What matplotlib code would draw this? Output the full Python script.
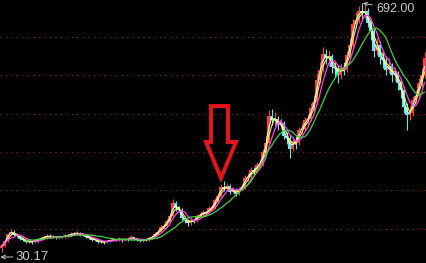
import matplotlib
matplotlib.use("Agg")
import matplotlib.pyplot as plt
import numpy as np
import pandas as pd
from matplotlib.patches import Polygon
from matplotlib.transforms import offset_copy

##### DATA (one bar every ~3 px) #####
first_open = 40
closes = [46, 60, 78, 84, 76, 74, 66, 63, 57, 58,
          56, 63, 61, 68, 69, 74, 70, 72, 69, 72,
          70, 74, 73, 79, 78, 82, 76, 76, 70, 68,
          63, 63, 58, 57, 56, 60, 61, 63, 62, 66,
          61, 65, 63, 69, 65, 63, 60, 63, 62, 68,
          70, 79, 84, 96, 99, 112, 125, 160, 146, 143,
          120, 114, 107, 114, 113, 126, 128, 136, 132, 147,
          148, 168, 180, 203, 198, 206, 190, 196, 184, 198,
          202, 228, 229, 248, 244, 262, 264, 295, 320, 392,
          380, 384, 368, 372, 338, 334, 305, 325, 320, 355,
          358, 380, 384, 412, 428, 488, 515, 556, 545, 550,
          522, 520, 500, 520, 515, 555, 580, 635, 648, 672,
          665, 672, 640, 618, 565, 580, 548, 540, 515, 525,
          500, 505, 480, 460, 415, 395, 400, 435, 445, 480,
          500, 545]

highs = [50, 66, 82, 92, 88, 79, 76, 69, 65, 61,
         61, 66, 66, 71, 73, 77, 77, 75, 74, 75,
         74, 77, 77, 83, 84, 87, 84, 80, 78, 73,
         70, 67, 65, 61, 60, 63, 64, 67, 66, 70,
         68, 68, 67, 75, 71, 67, 65, 66, 66, 71,
         74, 83, 90, 101, 106, 118, 135, 172, 166, 152,
         146, 124, 118, 118, 119, 131, 134, 141, 140, 152,
         156, 174, 188, 212, 218, 214, 210, 203, 200, 204,
         210, 236, 240, 256, 255, 270, 278, 305, 340, 408,
         410, 402, 392, 386, 378, 350, 340, 335, 338, 362,
         372, 390, 398, 425, 448, 505, 535, 575, 570, 566,
         556, 535, 528, 530, 535, 565, 598, 650, 668, 685,
         692, 688, 680, 650, 625, 598, 590, 565, 550, 545,
         532, 522, 512, 490, 468, 425, 418, 445, 462, 492,
         520, 562]

lows = [30.17, 44, 58, 76, 72, 70, 63, 60, 54, 54,
        52, 54, 58, 59, 65, 66, 67, 67, 66, 66,
        67, 68, 70, 71, 75, 76, 73, 72, 67, 65,
        60, 60, 55, 54, 52, 54, 58, 59, 59, 60,
        58, 59, 60, 61, 62, 60, 57, 58, 59, 60,
        66, 68, 76, 82, 92, 96, 108, 122, 140, 136,
        115, 106, 100, 103, 108, 110, 122, 124, 127, 130,
        142, 145, 163, 176, 192, 193, 184, 186, 178, 181,
        194, 198, 220, 225, 236, 240, 255, 260, 290, 315,
        368, 365, 355, 358, 330, 318, 280, 298, 305, 315,
        345, 352, 370, 378, 405, 422, 480, 508, 530, 525,
        505, 495, 480, 490, 500, 508, 545, 572, 625, 640,
        650, 652, 628, 595, 548, 555, 530, 520, 500, 505,
        482, 485, 462, 440, 400, 355, 380, 392, 428, 438,
        470, 492]

# long moving average (green), starts at bar 8
ma_long = [np.nan] * 8 + [
    59, 62, 62, 62, 64, 64, 64, 67, 67, 67,
    70, 70, 70, 72, 72, 72, 74, 75, 75, 75,
    75, 75, 75, 74, 72, 72, 70, 68, 67, 66,
    64, 64, 64, 64, 63, 62, 62, 62, 62, 62,
    62, 63, 64, 66, 67, 70, 75, 80, 86, 91,
    96, 104, 110, 115, 120, 123, 124, 124, 123, 123,
    125, 128, 131, 136, 141, 147, 152, 160, 165, 173,
    181, 187, 195, 200, 208, 216, 229, 242, 256, 272,
    285, 301, 312, 325, 336, 346, 352, 354, 353, 349,
    341, 337, 336, 336, 344, 357, 373, 391, 407, 426,
    445, 463, 477, 490, 503, 514, 519, 524, 530, 538,
    551, 564, 580, 594, 607, 618, 623, 626, 620, 612,
    602, 583, 562, 543, 527, 514, 500, 490, 477, 463,
    453, 447, 450, 455]

grid_levels = [92, 194, 296, 398, 500, 601]
peak_label = "692.00"
low_label = "30.17"
################

closes = np.array(closes, dtype=float)
opens = np.concatenate([[first_open], closes[:-1]])
highs = np.array(highs, dtype=float)
lows = np.array(lows, dtype=float)
x = np.arange(len(closes))

fig = plt.figure(figsize=(4.26, 2.63), dpi=100, facecolor="black")
ax = fig.add_axes([0, 0, 1, 1])
ax.set_facecolor("black")
ax.set_xlim(-0.5, len(closes) - 0.5)
ax.set_ylim(0.93, 700)
ax.axis("off")

# dotted dark red grid, one dot every 4 px
for lvl in grid_levels:
    ax.axhline(lvl, color="#8c2222", lw=0.72, ls=(0, (1.2, 4.3)), zorder=1)

# candles
up = closes >= opens
colors = np.where(up, "#ff3c3c", "#50f0f0")
ax.vlines(x, lows, highs, colors=colors, lw=0.8, zorder=2)
body_h = np.maximum(np.abs(closes - opens), 1.0)
ax.bar(x, body_h, bottom=np.minimum(opens, closes), width=0.7,
       color=colors, linewidth=0, zorder=2)

# moving averages
s = pd.Series(closes)
ax.plot(x, s.rolling(2, min_periods=1).mean(), color="white", lw=0.8, zorder=3)
ax.plot(x, s.rolling(3, min_periods=1).mean(), color="#ffff3c", lw=0.8, zorder=3)
ax.plot(x, s.rolling(5, min_periods=1).mean(), color="#ff3cff", lw=0.9, zorder=4)
ax.plot(x, ma_long, color="#3cd23c", lw=0.9, zorder=4)

# max / min labels
txt_color = "#c8c8c8"
fonts = ["Liberation Sans", "DejaVu Sans"]
ipk = int(np.argmax(highs))
ax.annotate(peak_label, xy=(ipk, highs[ipk]), xytext=(15, -6),
            textcoords="offset pixels", ha="left", va="center",
            color=txt_color, fontsize=9, family=fonts,
            arrowprops=dict(arrowstyle="->", color=txt_color, lw=0.7,
                            shrinkA=1, shrinkB=1, mutation_scale=6))
ilo = int(np.argmin(lows))
low_trans = offset_copy(ax.transData, fig=fig, x=-1, y=-5, units="dots")
ax.annotate(low_label, xy=(ilo, lows[ilo]), xycoords=low_trans, xytext=(15, 0),
            textcoords="offset pixels", ha="left", va="center",
            color=txt_color, fontsize=9.5, family=fonts,
            arrowprops=dict(arrowstyle="->", color=txt_color, lw=0.7,
                            shrinkA=0, shrinkB=0, mutation_scale=7))

# hollow red arrow pointing down at the marked bar (pixel layout -> axes fraction)
W, H = 426.0, 263.0
arrow_px = [(211, 106), (228, 106), (228, 142), (236, 142),
            (221, 178), (206, 142), (211, 142)]
arrow_ax = [(px / W, 1 - py / H) for px, py in arrow_px]
ax.add_patch(Polygon(arrow_ax, closed=True, transform=ax.transAxes,
                     fill=False, edgecolor="#e8141c", lw=2.8,
                     joinstyle="miter", zorder=5))

fig.savefig("out.png", dpi=100, facecolor="black")
